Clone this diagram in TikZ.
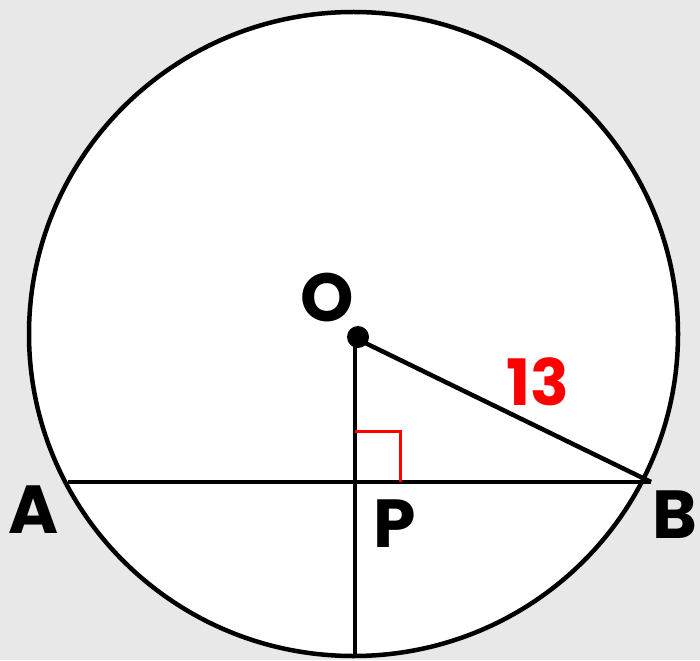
\documentclass[tikz,border=0pt]{standalone}
\usepackage{fontspec}
\setmainfont{Poppins}
\definecolor{bg}{HTML}{E8E8E8}
\definecolor{myred}{HTML}{FF0000}
\begin{document}
\begin{tikzpicture}[x=1pt,y=-1pt,
  lbl/.style={font=\fontsize{68}{68}\selectfont\bfseries, inner sep=0pt},
  geo/.style={line width=4.5pt, black},
  redmark/.style={line width=3pt, myred}]
\fill[bg] (0,0) rectangle (700,660);
\useasboundingbox (0,0) rectangle (700,660);
\begin{scope}
\clip (0,0) rectangle (700,660);
\draw[geo, fill=white] (353.5,334) ellipse [x radius=324.5, y radius=322];
\end{scope}
\coordinate (A) at (68,482);
\coordinate (B) at (651,482);
\coordinate (P) at (355,482);
\coordinate (Bot) at (355,656);
\coordinate (Oc) at (355,338);
\coordinate (M1) at (355,431);
\coordinate (M2) at (400,431);
\coordinate (M3) at (400,482);
\draw[geo] (A) -- (B);
\draw[geo] (Oc) -- (Bot);
\draw[geo] (Oc) -- (B);
\draw[redmark] (M1) -- (M2) -- (M3);
\node[circle, fill=black, inner sep=0pt, minimum size=22pt] (O) at (358,337) {};
\node[lbl] (labO) at (327,298) {O};
\node[lbl, anchor=base] (labA) at (34,533) {A};
\node[lbl, anchor=base] (labP) at (395,547) {P};
\node[lbl, anchor=base east] (labB) at (697,538) {B};
\node[lbl, anchor=base, text=myred, font=\fontsize{64}{64}\selectfont\bfseries] (lab13) at (538,405) {13};
\end{tikzpicture}
\end{document}
